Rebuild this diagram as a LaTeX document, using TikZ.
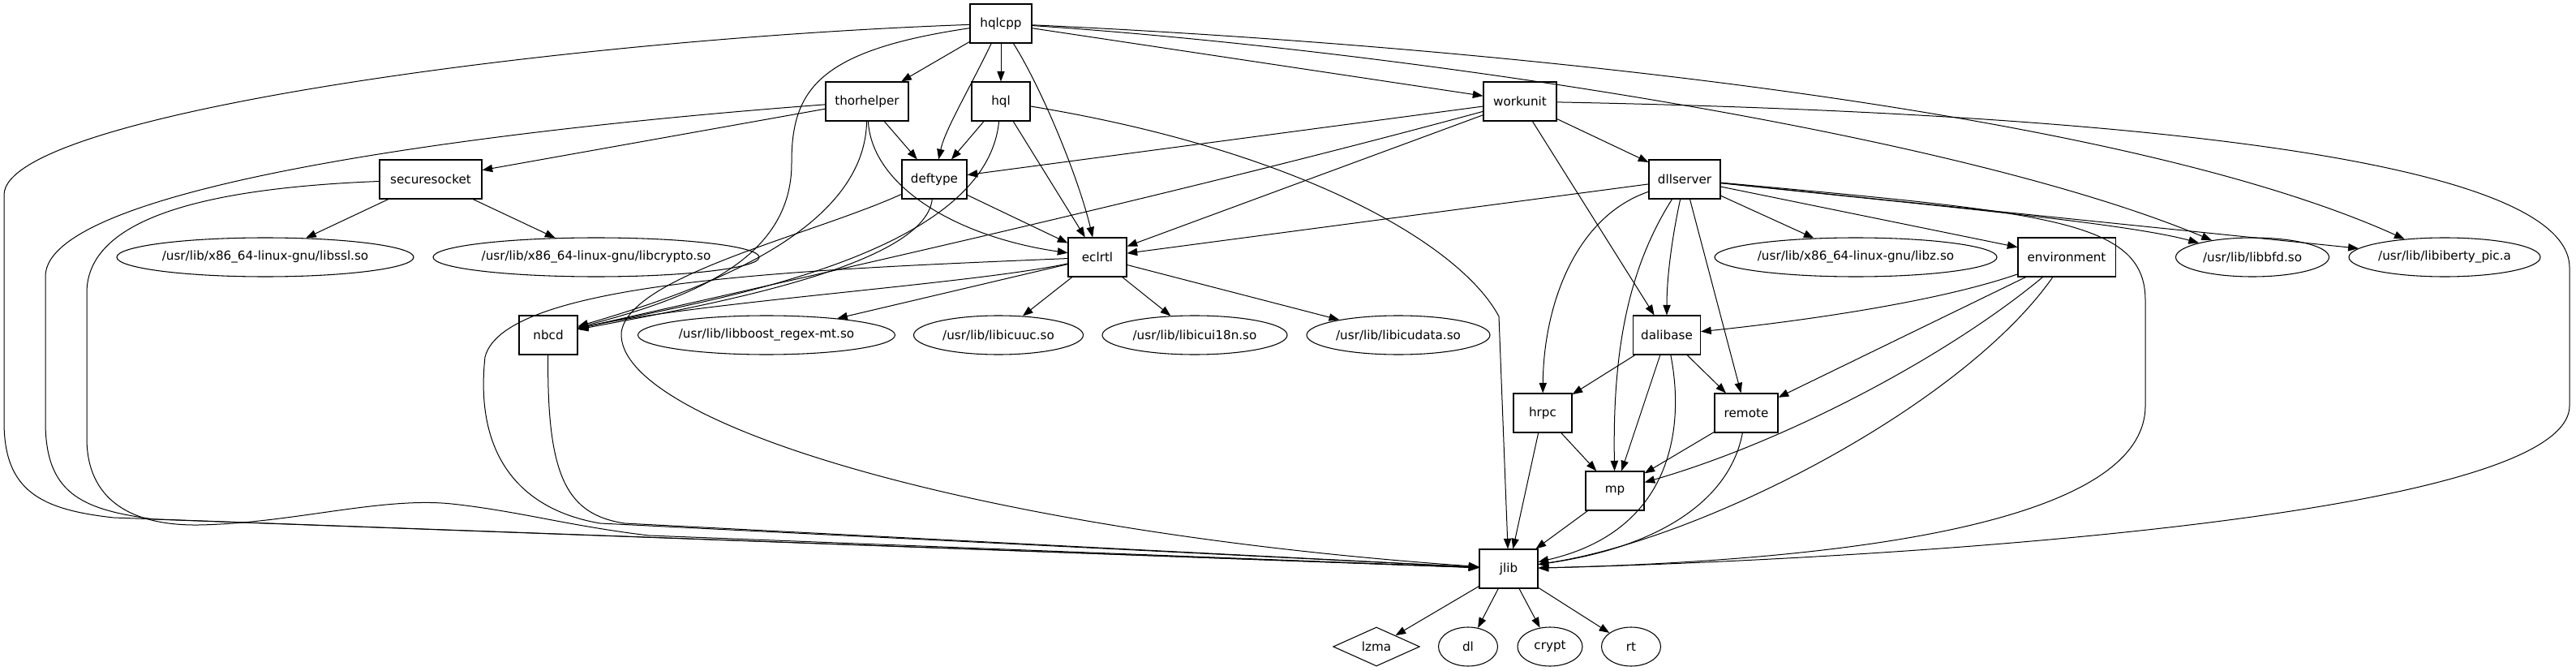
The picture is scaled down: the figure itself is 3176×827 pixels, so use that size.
\documentclass[tikz,border=0pt]{standalone}
\usepackage{fontspec}
\setmainfont{DejaVu Sans}
\usetikzlibrary{arrows.meta,shapes.geometric}
\begin{document}
\begin{tikzpicture}[x=0.75pt,y=-0.75pt,
  every node/.style={font=\fontsize{11.4}{13}\selectfont, inner sep=0pt, draw, line width=0.8pt},
  box/.style={rectangle, minimum height=36pt},
  lib/.style={ellipse, minimum height=36pt},
  edge/.style={draw, line width=0.75pt, -{Triangle[length=9.5pt,width=7pt]}}]
\useasboundingbox (0,0) rectangle (3176,827);
% rank 0
\node[box, minimum width=57pt] (hqlcpp) at (1234,29) {hqlcpp};
% rank 1
\node[box, minimum width=76.5pt] (thorhelper) at (1069,125) {thorhelper};
\node[box, minimum width=54pt] (hql) at (1234,125) {hql};
\node[box, minimum width=67.5pt] (workunit) at (1874,125) {workunit};
% rank 2
\node[box, minimum width=94.5pt] (securesocket) at (531,221) {securesocket};
\node[box, minimum width=60pt] (deftype) at (1152,221) {deftype};
\node[box, minimum width=66pt] (dllserver) at (2077,221) {dllserver};
% rank 3
\node[lib, minimum width=274.5pt] (libssl) at (327,317) {/usr/lib/x86\_64-linux-gnu/libssl.so};
\node[lib, minimum width=301.5pt] (libcrypto) at (735,317) {/usr/lib/x86\_64-linux-gnu/libcrypto.so};
\node[box, minimum width=54pt] (eclrtl) at (1353,317) {eclrtl};
\node[lib, minimum width=261pt] (libz) at (2288,317) {/usr/lib/x86\_64-linux-gnu/libz.so};
\node[box, minimum width=90pt] (environment) at (2548,317) {environment};
\node[lib, minimum width=141.75pt] (libbfd) at (2777,317) {/usr/lib/libbfd.so};
\node[lib, minimum width=177pt] (libiberty) at (3014,317) {/usr/lib/libiberty\_pic.a};
% rank 4
\node[box, minimum width=54pt] (nbcd) at (676,413) {nbcd};
\node[lib, minimum width=237.75pt] (libboost) at (945,413) {/usr/lib/libboost\_regex-mt.so};
\node[lib, minimum width=156.75pt] (libicuuc) at (1231,413) {/usr/lib/libicuuc.so};
\node[lib, minimum width=171pt] (libicui18n) at (1473,413) {/usr/lib/libicui18n.so};
\node[lib, minimum width=169.5pt] (libicudata) at (1724,413) {/usr/lib/libicudata.so};
\node[box, minimum width=62.25pt] (dalibase) at (2055,413) {dalibase};
% rank 5
\node[box, minimum width=54pt] (hrpc) at (1902,509) {hrpc};
\node[box, minimum width=58.5pt] (remote) at (2153,509) {remote};
% rank 6
\node[box, minimum width=54pt] (mp) at (1991,605) {mp};
% rank 7
\node[box, minimum width=54pt] (jlib) at (1860,701) {jlib};
% rank 8
\node[diamond, aspect=2.2, minimum width=80pt, minimum height=36pt] (lzma) at (1697,797) {lzma};
\node[lib, minimum width=54.75pt] (dl) at (1810,797) {dl};
\node[lib, minimum width=60pt] (crypt) at (1911,797) {crypt};
\node[lib, minimum width=54.75pt] (rt) at (2011,797) {rt};

% hqlcpp
\draw[edge] (hqlcpp) -- (thorhelper);
\draw[edge] (hqlcpp) -- (hql);
\draw[edge] (hqlcpp) .. controls (1195,110) and (1165,160) .. (deftype);
\draw[edge] (hqlcpp) .. controls (1285,110) and (1330,220) .. (eclrtl);
\draw[edge] (hqlcpp) -- (workunit);
\draw[edge] (hqlcpp) .. controls (1700,60) and (2400,160) .. (libbfd);
\draw[edge] (hqlcpp) .. controls (1800,55) and (2600,130) .. (libiberty);
\draw[edge] (hqlcpp) .. controls (700,48) and (6,140) .. (5,240) -- (5,520) .. controls (5,605) and (50,628) .. (140,638) -- (jlib);
\draw[edge] (hqlcpp) .. controls (1010,62) and (976,110) .. (976,200) .. controls (977,320) and (850,368) .. (nbcd);
% thorhelper
\draw[edge] (thorhelper) -- (deftype);
\draw[edge] (thorhelper) -- (securesocket);
\draw[edge] (thorhelper) .. controls (1075,230) and (1180,292) .. (eclrtl);
\draw[edge] (thorhelper) .. controls (1066,290) and (850,362) .. (nbcd);
\draw[edge] (thorhelper) .. controls (600,160) and (58,230) .. (56,340) -- (56,520) .. controls (56,608) and (100,628) .. (190,640) -- (jlib);
% hql
\draw[edge] (hql) -- (deftype);
\draw[edge] (hql) -- (eclrtl);
\draw[edge] (hql) .. controls (1215,320) and (860,372) .. (nbcd);
\draw[edge] (hql) .. controls (1600,185) and (1800,300) .. (1848,390) -- (jlib);
% workunit
\draw[edge] (workunit) -- (deftype);
\draw[edge] (workunit) -- (eclrtl);
\draw[edge] (workunit) .. controls (1450,240) and (1000,340) .. (nbcd);
\draw[edge] (workunit) -- (dllserver);
\draw[edge] (workunit) -- (dalibase);
\draw[edge] (workunit) .. controls (2650,140) and (3168,200) .. (3168,330) -- (3168,500) .. controls (3168,640) and (2300,690) .. (jlib);
% dllserver
\draw[edge] (dllserver) -- (eclrtl);
\draw[edge] (dllserver) -- (libz);
\draw[edge] (dllserver) -- (environment);
\draw[edge] (dllserver) .. controls (2400,255) and (2620,275) .. (libbfd);
\draw[edge] (dllserver) -- (libiberty);
\draw[edge] (dllserver) .. controls (2520,262) and (2645,270) .. (2645,370) -- (2645,500) .. controls (2645,640) and (2300,690) .. (jlib);
\draw[edge] (dllserver) .. controls (2062,290) and (2055,340) .. (dalibase);
\draw[edge] (dllserver) -- (remote);
\draw[edge] (dllserver) .. controls (1940,268) and (1903,380) .. (hrpc);
\draw[edge] (dllserver) .. controls (2008,330) and (1988,430) .. (mp);
% environment
\draw[edge] (environment) .. controls (2380,375) and (2200,398) .. (dalibase);
\draw[edge] (environment) -- (remote);
\draw[edge] (environment) .. controls (2400,440) and (2200,545) .. (mp);
\draw[edge] (environment) .. controls (2420,500) and (2100,665) .. (jlib);
% dalibase
\draw[edge] (dalibase) -- (hrpc);
\draw[edge] (dalibase) -- (remote);
\draw[edge] (dalibase) -- (mp);
\draw[edge] (dalibase) .. controls (2078,530) and (2060,655) .. (jlib);
% remote, hrpc, mp
\draw[edge] (remote) -- (mp);
\draw[edge] (remote) .. controls (2132,620) and (2040,675) .. (jlib);
\draw[edge] (hrpc) -- (mp);
\draw[edge] (hrpc) -- (jlib);
\draw[edge] (mp) -- (jlib);
% securesocket
\draw[edge] (securesocket) -- (libssl);
\draw[edge] (securesocket) -- (libcrypto);
\draw[edge] (securesocket) .. controls (250,232) and (108,270) .. (107,360) -- (107,540) .. controls (107,615) and (160,648) .. (245,647) .. controls (360,645) and (470,612) .. (557,621) .. controls (640,630) and (700,648) .. (800,660) -- (jlib);
% deftype
\draw[edge] (deftype) -- (eclrtl);
\draw[edge] (deftype) .. controls (1140,330) and (860,378) .. (nbcd);
\draw[edge] (deftype) .. controls (1000,290) and (775,340) .. (766,410) .. controls (760,520) and (1200,655) .. (jlib);
% eclrtl
\draw[edge] (eclrtl) -- (libboost);
\draw[edge] (eclrtl) -- (libicuuc);
\draw[edge] (eclrtl) -- (libicui18n);
\draw[edge] (eclrtl) -- (libicudata);
\draw[edge] (eclrtl) .. controls (1200,350) and (860,372) .. (nbcd);
\draw[edge] (eclrtl) .. controls (1000,332) and (622,345) .. (598,440) .. controls (585,560) and (640,628) .. (740,645) -- (jlib);
% nbcd
\draw[edge] (nbcd) .. controls (674,590) and (700,634) .. (770,645) -- (jlib);
% jlib
\draw[edge] (jlib) -- (lzma);
\draw[edge] (jlib) -- (dl);
\draw[edge] (jlib) -- (crypt);
\draw[edge] (jlib) -- (rt);
\end{tikzpicture}
\end{document}
